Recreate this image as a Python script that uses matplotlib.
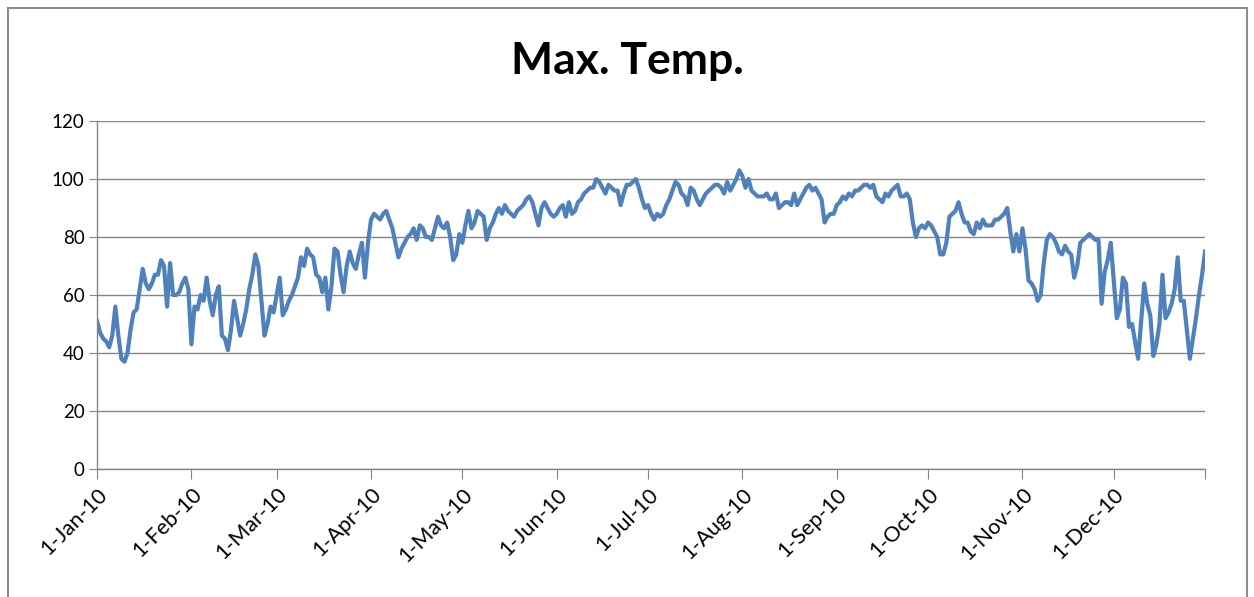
import matplotlib
matplotlib.use("Agg")
import matplotlib.pyplot as plt
import pandas as pd

plt.rcParams["font.family"] = ["Lato", "DejaVu Sans"]

# daily max temperature, 2010
jan = [51, 47, 45, 44, 42, 46, 56, 46, 38, 37, 40, 48, 54, 55, 62, 69, 64, 62, 64, 67,
       67, 72, 70, 56, 71, 60, 60, 61, 64, 66, 62]
feb = [43, 56, 55, 60, 58, 66, 58, 53, 60, 63, 46, 45, 41, 48, 58, 52, 46, 50, 55, 62,
       67, 74, 70, 58, 46, 50, 56, 54]
mar = [60, 66, 53, 55, 58, 60, 63, 66, 73, 70, 76, 74, 73, 67, 66, 61, 66, 55, 63, 76,
       75, 67, 61, 70, 75, 71, 69, 74, 78, 66, 78]
apr = [86, 88, 87, 86, 88, 89, 86, 83, 78, 73, 76, 78, 80, 81, 83, 79, 84, 83, 80, 80,
       79, 83, 87, 84, 83, 85, 80, 72, 74, 81]
may = [78, 84, 89, 83, 85, 89, 88, 87, 79, 83, 85, 88, 90, 88, 91, 89, 88, 87, 89, 90,
       91, 93, 94, 92, 88, 84, 90, 92, 90, 88, 87]
jun = [88, 90, 91, 87, 92, 88, 89, 92, 93, 95, 96, 97, 97, 100, 99, 97, 95, 98, 97, 96,
       96, 91, 95, 98, 98, 99, 100, 97, 93, 90]
jul = [91, 88, 86, 88, 87, 88, 91, 93, 96, 99, 98, 95, 94, 91, 97, 96, 93, 91, 93, 95,
       96, 97, 98, 98, 97, 95, 99, 96, 98, 100, 103]
aug = [101, 97, 100, 96, 95, 94, 94, 94, 95, 93, 93, 95, 90, 91, 92, 92, 91, 95, 91, 93,
       95, 97, 98, 96, 97, 95, 93, 85, 87, 88, 88]
sep = [91, 92, 94, 93, 95, 94, 96, 96, 97, 98, 98, 97, 98, 94, 93, 92, 95, 94, 96, 97,
       98, 94, 94, 95, 93, 85, 80, 83, 84, 83]
oct_ = [85, 84, 82, 80, 74, 74, 78, 87, 88, 89, 92, 88, 85, 85, 82, 81, 85, 83, 86, 84,
        84, 84, 86, 86, 87, 88, 90, 82, 75, 81, 75]
nov = [83, 76, 65, 64, 62, 58, 60, 71, 79, 81, 80, 78, 75, 74, 77, 75, 74, 66, 70, 78,
       79, 80, 81, 80, 79, 79, 57, 68, 72, 78]
dec = [65, 52, 55, 66, 64, 49, 50, 44, 38, 51, 64, 57, 53, 39, 43, 50, 67, 52, 54, 57,
       62, 73, 58, 58, 48, 38, 45, 52, 60, 67, 75]

max_temp = jan + feb + mar + apr + may + jun + jul + aug + sep + oct_ + nov + dec
dates = pd.date_range("2010-01-01", periods=len(max_temp), freq="D")

fig = plt.figure(figsize=(12.54, 5.97), dpi=100)
ax = fig.add_axes([0.0774, 0.2144, 0.8836, 0.5829])

# outer chart border
fig.patches.append(plt.Rectangle((0.0064, -0.05), 0.9880, 1.037, transform=fig.transFigure,
                                 fill=False, edgecolor="#8c8c8c", linewidth=1.5))

ax.plot(dates, max_temp, color="#4f81bd", linewidth=3, solid_joinstyle="round")

ax.set_ylim(0, 120)
ax.set_yticks(range(0, 121, 20))
ax.set_xlim(dates[0], dates[-1])

month_starts = list(pd.date_range("2010-01-01", "2010-12-01", freq="MS"))
ax.set_xticks(month_starts + [dates[-1]])
ax.set_xticklabels([f"{d.day}-{d:%b}-{d:%y}" for d in month_starts] + [""],
                   rotation=45, ha="right", rotation_mode="anchor", fontsize=15.5)
ax.tick_params(axis="y", labelsize=13.5, length=6, color="#868686", pad=3)
ax.tick_params(axis="x", length=7, color="#868686", pad=4)

ax.grid(axis="y", color="#868686", linewidth=1)
ax.set_axisbelow(True)
for side in ["top", "right"]:
    ax.spines[side].set_visible(False)
for side in ["left", "bottom"]:
    ax.spines[side].set_color("#868686")
    ax.spines[side].set_linewidth(1)

fig.text(0.5, 0.897, "Max. Temp.", ha="center", va="center", fontsize=32, fontweight="bold")

fig.savefig("out.png", dpi=100)
